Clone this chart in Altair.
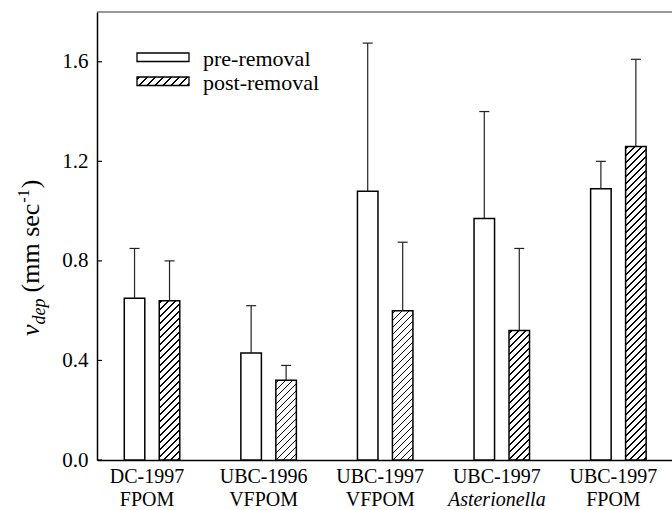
import altair as alt
import pandas as pd

# ---------------- data ----------------
categories = ["DC-1997", "UBC-1996", "UBC-1997", "UBC-1997", "UBC-1997"]
subtitles = ["FPOM", "VFPOM", "VFPOM", "Asterionella", "FPOM"]
italic_sub = [False, False, False, True, False]
pre_values = [0.65, 0.43, 1.08, 0.97, 1.09]
pre_upper = [0.85, 0.62, 1.675, 1.40, 1.20]
post_values = [0.64, 0.32, 0.60, 0.52, 1.26]
post_upper = [0.80, 0.38, 0.875, 0.85, 1.61]
y_ticks = [0.0, 0.4, 0.8, 1.2, 1.6]
legend_labels = ["pre-removal", "post-removal"]

# ---------------- layout / style ----------------
W, H = 575, 448
X_DOMAIN = [-0.472, 4.46]
Y_DOMAIN = [0, 1.8]
OFF = 0.15
HALF = 0.088
CAP = 0.043
FONT = "Liberation Serif"
FS = 21
XFS = 20

px_per_x = W / (X_DOMAIN[1] - X_DOMAIN[0])
px_per_y = H / (Y_DOMAIN[1] - Y_DOMAIN[0])


def hatch(w, h, period=7.0, line=1.6):
    L = w + h
    k = L / (w * w + h * h)
    stops = [{"offset": 0, "color": "white"}]
    i = 0
    while True:
        a = (i * period + 2.0) / L
        if a >= 1:
            break
        b = min(a + line / L, 1)
        stops += [
            {"offset": a, "color": "white"},
            {"offset": a, "color": "black"},
            {"offset": b, "color": "black"},
            {"offset": b, "color": "white"},
        ]
        i += 1
    stops.append({"offset": 1, "color": "white"})
    return {"gradient": "linear", "x1": 0, "y1": 0, "x2": w * k, "y2": h * k, "stops": stops}


rows = []
for i in range(len(categories)):
    for s, vals, ups, off in (("pre", pre_values, pre_upper, -OFF), ("post", post_values, post_upper, OFF)):
        xc = i + off
        rows.append({"idx": i, "series": s, "value": vals[i], "upper": ups[i],
                     "xc": xc, "x0": xc - HALF, "x1": xc + HALF,
                     "c0": xc - CAP, "c1": xc + CAP})
df = pd.DataFrame(rows)

labels_df = pd.DataFrame({"idx": list(range(len(categories))), "cat": categories,
                          "sub": subtitles, "ital": italic_sub})

xscale = alt.Scale(domain=X_DOMAIN, nice=False, zero=False)
yscale = alt.Scale(domain=Y_DOMAIN, nice=False)

base = alt.Chart(df)

x_axis = alt.Axis(labels=False, ticks=False, grid=False, title=None, domain=True,
                  domainColor="black", domainWidth=1.5)
y_axis = alt.Axis(values=y_ticks, format=".1f", tickSize=0, labelPadding=9, grid=False,
                  title=None, labelFont=FONT, labelFontSize=FS, labelColor="black",
                  domainColor="black", domainWidth=1.5)

pre_bars = base.transform_filter(alt.datum.series == "pre").mark_rect(
    fill="white", stroke="black", strokeWidth=1.5
).encode(
    x=alt.X("x0:Q", scale=xscale, axis=x_axis),
    x2="x1:Q",
    y=alt.Y("value:Q", scale=yscale, axis=y_axis),
    y2=alt.datum(0),
)

post_layers = []
for i in range(len(categories)):
    w = 2 * HALF * px_per_x
    h = post_values[i] * px_per_y
    post_layers.append(
        base.transform_filter((alt.datum.series == "post") & (alt.datum.idx == i)).mark_rect(
            fill=hatch(w, h), stroke="black", strokeWidth=1.5
        ).encode(
            x=alt.X("x0:Q", scale=xscale),
            x2="x1:Q",
            y=alt.Y("value:Q", scale=yscale),
            y2=alt.datum(0),
        )
    )

err_line = base.mark_rule(color="#222", strokeWidth=1.2).encode(
    x=alt.X("xc:Q", scale=xscale),
    y=alt.Y("value:Q", scale=yscale),
    y2="upper:Q",
)
err_cap = base.mark_rule(color="#222", strokeWidth=1.2).encode(
    x=alt.X("c0:Q", scale=xscale),
    x2="c1:Q",
    y=alt.Y("upper:Q", scale=yscale),
)

ticks = alt.Chart(pd.DataFrame({"t": y_ticks})).mark_rule(color="black", strokeWidth=1.2).encode(
    x=alt.value(0), x2=alt.value(5), y=alt.Y("t:Q", scale=yscale)
)

top_line = alt.Chart(alt.Data(values=[{"k": 0}])).mark_rule(color="#333", strokeWidth=1.2).encode(
    x=alt.value(0), x2=alt.value(W), y=alt.value(0)
)

lab1 = alt.Chart(labels_df).mark_text(font=FONT, fontSize=XFS, baseline="alphabetic",
                                      align="center", dx=-5, color="black").encode(
    x=alt.X("idx:Q", scale=xscale), y=alt.value(471), text="cat:N"
)
lab2 = alt.Chart(labels_df).transform_filter(alt.datum.ital == False).mark_text(
    font=FONT, fontSize=XFS, baseline="alphabetic", align="center", dx=-5, color="black").encode(
    x=alt.X("idx:Q", scale=xscale), y=alt.value(494), text="sub:N"
)
lab2i = alt.Chart(labels_df).transform_filter(alt.datum.ital == True).mark_text(
    font=FONT, fontSize=XFS, fontStyle="italic", baseline="alphabetic", align="center", dx=-5,
    color="black").encode(
    x=alt.X("idx:Q", scale=xscale), y=alt.value(494), text="sub:N"
)

# ---- y title pieces (rotated), laid out bottom to top ----
one = alt.Data(values=[{"k": 0}])
BX = -58
TF = 26
# text, size, style, baseline shift, advance (em), gap before (px)
pieces = [
    ("v", TF, "italic", 0, 0.444, 0),
    ("dep", 18, "italic", 6, 1.444, 0),
    ("(mm sec", TF, "normal", 0, 3.416, 6),
    ("-1", 16, "normal", -10, 0.833, 1),
    (")", TF, "normal", 0, 0.333, 1),
]
title_layers = []
ycur = 324.0
for txt, size, style, dxb, em, gap in pieces:
    ycur -= gap
    title_layers.append(
        alt.Chart(one).mark_text(text=txt, font=FONT, fontSize=size, fontStyle=style, angle=270,
                                 align="left", baseline="alphabetic", color="black").encode(
            x=alt.value(BX + dxb), y=alt.value(ycur)
        )
    )
    ycur -= em * size

# ---- legend ----
leg_layers = []
box_w = 52
for j, name in enumerate(legend_labels):
    y0 = 41 + 24 * j
    fill = "white" if j == 0 else hatch(box_w, 8.5, period=8.0, line=1.8)
    leg_layers.append(
        alt.Chart(one).mark_rect(fill=fill, stroke="black", strokeWidth=1.3).encode(
            x=alt.value(40), x2=alt.value(40 + box_w), y=alt.value(y0), y2=alt.value(y0 + 8.5)
        )
    )
    leg_layers.append(
        alt.Chart(one).mark_text(text=name, font=FONT, fontSize=22, align="left",
                                 baseline="alphabetic", color="black").encode(
            x=alt.value(106), y=alt.value(y0 + 12.5)
        )
    )

chart = alt.layer(
    pre_bars, *post_layers, err_line, err_cap, ticks, top_line, lab1, lab2, lab2i,
    *title_layers, *leg_layers
).properties(
    width=W, height=H,
    autosize=alt.AutoSizeParams(type="none"),
    padding={"left": 97, "top": 12, "right": 0, "bottom": 50},
).configure_view(stroke=None)

chart.save("out.html", embed_options={"renderer": "svg", "actions": False})
